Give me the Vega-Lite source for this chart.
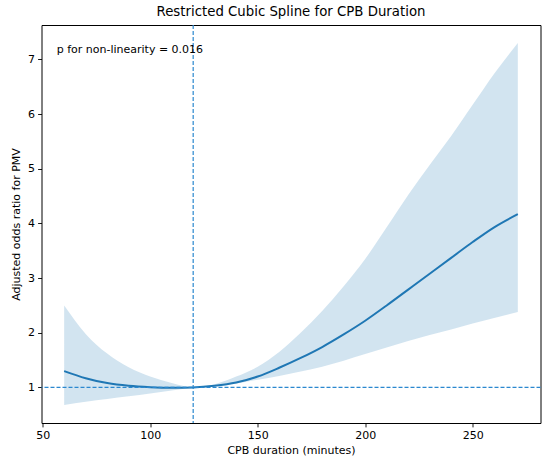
{
  "$schema": "https://vega.github.io/schema/vega-lite/v6.json",
  "width": 499,
  "height": 398,
  "autosize": {"type": "none"},
  "padding": {"left": 41.5, "top": 25, "right": 9.5, "bottom": 40},
  "background": "white",
  "title": {
    "text": "Restricted Cubic Spline for CPB Duration",
    "font": "DejaVu Sans",
    "fontSize": 13.3,
    "fontWeight": "normal",
    "color": "black",
    "anchor": "middle",
    "offset": 6
  },
  "config": {
    "view": {"stroke": "black", "strokeWidth": 1},
    "axis": {
      "grid": false,
      "domain": false,
      "labelFont": "DejaVu Sans",
      "labelFontSize": 11,
      "labelColor": "black",
      "titleFont": "DejaVu Sans",
      "titleFontSize": 11,
      "titleFontWeight": "normal",
      "titleColor": "black",
      "tickColor": "black",
      "tickSize": 3.9,
      "tickWidth": 0.9,
      "labelPadding": 3
    }
  },
  "datasets": {
    "spline": [
      {"x": 60, "est": 1.30, "lo": 0.68, "hi": 2.50},
      {"x": 70, "est": 1.17, "lo": 0.74, "hi": 1.98},
      {"x": 80, "est": 1.08, "lo": 0.79, "hi": 1.62},
      {"x": 90, "est": 1.03, "lo": 0.84, "hi": 1.37},
      {"x": 100, "est": 1.005, "lo": 0.89, "hi": 1.20},
      {"x": 110, "est": 0.995, "lo": 0.945, "hi": 1.08},
      {"x": 120, "est": 1.00, "lo": 1.00, "hi": 1.00},
      {"x": 130, "est": 1.03, "lo": 1.02, "hi": 1.06},
      {"x": 140, "est": 1.09, "lo": 1.07, "hi": 1.20},
      {"x": 150, "est": 1.20, "lo": 1.14, "hi": 1.38},
      {"x": 160, "est": 1.36, "lo": 1.21, "hi": 1.65},
      {"x": 170, "est": 1.54, "lo": 1.29, "hi": 2.00},
      {"x": 180, "est": 1.74, "lo": 1.38, "hi": 2.40},
      {"x": 190, "est": 1.97, "lo": 1.49, "hi": 2.85},
      {"x": 200, "est": 2.22, "lo": 1.61, "hi": 3.35},
      {"x": 210, "est": 2.50, "lo": 1.73, "hi": 3.93},
      {"x": 220, "est": 2.79, "lo": 1.85, "hi": 4.52},
      {"x": 230, "est": 3.08, "lo": 1.96, "hi": 5.07},
      {"x": 240, "est": 3.37, "lo": 2.06, "hi": 5.60},
      {"x": 250, "est": 3.66, "lo": 2.17, "hi": 6.17},
      {"x": 260, "est": 3.93, "lo": 2.27, "hi": 6.74},
      {"x": 271, "est": 4.17, "lo": 2.38, "hi": 7.30}
    ]
  },
  "layer": [
    {
      "data": {"name": "spline"},
      "mark": {"type": "area", "color": "#1f77b4", "opacity": 0.2, "interpolate": "monotone"},
      "encoding": {
        "x": {
          "field": "x",
          "type": "quantitative",
          "title": "CPB duration (minutes)",
          "scale": {"domain": [49.45, 281.55], "nice": false, "zero": false},
          "axis": {"values": [50, 100, 150, 200, 250], "titlePadding": 4}
        },
        "y": {
          "field": "hi",
          "type": "quantitative",
          "title": "Adjusted odds ratio for PMV",
          "scale": {"domain": [0.35, 7.63], "nice": false, "zero": false},
          "axis": {"values": [1, 2, 3, 4, 5, 6, 7], "titlePadding": 6}
        },
        "y2": {"field": "lo"}
      }
    },
    {
      "data": {"name": "spline"},
      "mark": {"type": "line", "color": "#1f77b4", "strokeWidth": 2, "interpolate": "monotone"},
      "encoding": {
        "x": {"field": "x", "type": "quantitative"},
        "y": {"field": "est", "type": "quantitative"}
      }
    },
    {
      "data": {"values": [{"ref": 120}]},
      "mark": {"type": "rule", "color": "#2b88cf", "strokeWidth": 1.2, "strokeDash": [4, 2]},
      "encoding": {"x": {"field": "ref", "type": "quantitative"}}
    },
    {
      "data": {"values": [{"ref": 1}]},
      "mark": {"type": "rule", "color": "#2b88cf", "strokeWidth": 1.2, "strokeDash": [4, 2]},
      "encoding": {"y": {"field": "ref", "type": "quantitative"}}
    },
    {
      "data": {"values": [{"x": 56.5, "y": 7.17, "label": "p for non-linearity = 0.016"}]},
      "mark": {"type": "text", "align": "left", "baseline": "middle", "font": "DejaVu Sans", "fontSize": 11, "color": "black"},
      "encoding": {
        "x": {"field": "x", "type": "quantitative"},
        "y": {"field": "y", "type": "quantitative"},
        "text": {"field": "label"}
      }
    }
  ]
}
